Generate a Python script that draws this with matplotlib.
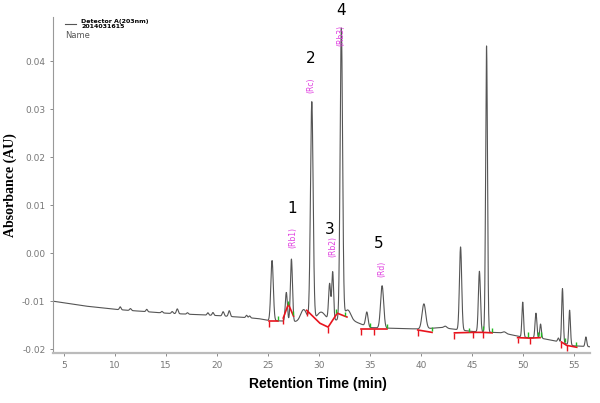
#!/usr/bin/env python3
"""HPLC chromatogram, detector A 203 nm"""
import numpy as np
import matplotlib.pyplot as plt

# baseline drift (time, AU)
base_t = [3.9, 7, 10, 15, 20, 24, 25, 28, 33, 35, 38, 40, 42, 45, 48, 50, 52, 53, 55, 56.6]
base_v = [-0.0100, -0.0110, -0.0117, -0.0125, -0.0130, -0.0136, -0.0140, -0.0143,
          -0.0138, -0.0155, -0.0157, -0.0158, -0.0155, -0.0163, -0.0166, -0.0175, -0.0178,
          -0.0182, -0.0193, -0.0195]

# peaks: retention time, height above baseline, width (sigma)
peak_t = [10.5, 11.5, 13.1, 14.6, 15.6, 16.1, 17.1, 19.1, 19.6, 20.6, 21.2, 22.9, 23.2,
          25.4, 26.8, 27.3, 28.5, 29.3, 30.2, 31.05, 31.35, 32.2, 32.8,
          34.7, 36.2, 40.3, 42.4, 43.9, 45.75, 46.45, 48.2, 50.0, 51.3, 51.75, 53.5, 53.9,
          54.6, 56.2]
peak_h = [0.0006, 0.0004, 0.0005, 0.0003, 0.0004, 0.0010, 0.0003, 0.0005, 0.0006, 0.0009,
          0.0012, 0.0005, 0.0004,
          0.0125, 0.0060, 0.0130, 0.0025, 0.0455, 0.0018, 0.0075, 0.0100, 0.0605, 0.0020,
          0.0030, 0.0088, 0.0052, 0.0004, 0.0173, 0.0126, 0.0596, 0.0003, 0.0073, 0.0052,
          0.0030, 0.0008, 0.0113, 0.0072, 0.0020]
peak_w = [0.08, 0.08, 0.08, 0.08, 0.08, 0.09, 0.08, 0.08, 0.08, 0.09, 0.09, 0.08, 0.08,
          0.12, 0.10, 0.10, 0.30, 0.13, 0.40, 0.10, 0.09, 0.12, 0.30,
          0.12, 0.15, 0.18, 0.15, 0.11, 0.10, 0.09, 0.15, 0.08, 0.09, 0.08,
          0.08, 0.08, 0.08, 0.08]

# integration baselines (red)
seg_t = [[25.1, 26.0], [26.5, 27.0, 27.5], [28.8, 30.1, 30.9, 31.8, 32.75],
         [34.15, 35.4, 36.7], [39.7, 41.1], [43.3, 45.1, 46.1, 47.0],
         [49.5, 50.7, 51.7], [53.8, 54.3, 55.3]]
seg_v = [[-0.0142, -0.0142], [-0.0135, -0.0106, -0.0131],
         [-0.0119, -0.0146, -0.0154, -0.0125, -0.0133],
         [-0.0158, -0.0158, -0.0158], [-0.0160, -0.0165],
         [-0.0166, -0.0165, -0.0165, -0.0166], [-0.0176, -0.0177, -0.0176],
         [-0.0185, -0.0192, -0.0196]]
start_t = [25.1, 26.5, 28.8, 30.9, 34.15, 35.4, 39.7, 43.3, 45.1, 46.1, 49.5, 50.7, 53.8, 54.3]
start_v = [-0.0142, -0.0135, -0.0119, -0.0154, -0.0158, -0.0158, -0.0160, -0.0166, -0.0165,
           -0.0165, -0.0176, -0.0177, -0.0185, -0.0192]
end_t = [26.0, 27.0, 27.5, 31.7, 32.6, 35.0, 36.7, 41.1, 44.7, 46.1, 47.0, 50.5, 51.5,
         51.8, 54.1, 55.2]
end_v = [-0.0142, -0.0110, -0.0131, -0.0127, -0.0133, -0.0156, -0.0158, -0.0165, -0.0166,
         -0.0163, -0.0166, -0.0176, -0.0175, -0.0176, -0.0188, -0.0195]

num_labels = ["1", "2", "3", "4", "5"]
num_t = [27.35, 29.2, 31.1, 32.15, 35.9]
num_v = [0.0094, 0.0406, 0.0050, 0.0506, 0.0021]
cmp_labels = ["(Rb1)", "(Rc)", "(Rb2)", "(Rb3)", "(Rd)"]
cmp_t = [27.45, 29.2, 31.4, 32.15, 36.2]
cmp_v = [0.0033, 0.0350, 0.0013, 0.0454, -0.0033]

t = np.arange(3.9, 56.6, 0.01)
y = np.interp(t, base_t, base_v)
for pt, ph, pw in zip(peak_t, peak_h, peak_w):
    y = y + ph * np.exp(-0.5 * ((t - pt) / pw) ** 2)

fig = plt.figure(figsize=(6, 4.03), dpi=100)
ax = fig.add_axes([0.0883, 0.124, 0.895, 0.834])

ax.plot(t, y, color="#555555", lw=0.8)
for st, sv in zip(seg_t, seg_v):
    ax.plot(st, sv, color="#e8141e", lw=1.2)
ax.vlines(start_t, np.array(start_v) - 0.0012, start_v, color="#e8141e", lw=1.0)
ax.vlines(end_t, np.array(end_v) + 0.0002, np.array(end_v) + 0.0011, color="#22bb22", lw=1.0)

for lab, lt, lv in zip(num_labels, num_t, num_v):
    ax.text(lt, lv, lab, fontsize=11, ha="center", va="center", clip_on=False)
for lab, lt, lv in zip(cmp_labels, cmp_t, cmp_v):
    ax.text(lt, lv, lab, fontsize=5.5, color="#e040e0", rotation=90,
            ha="center", va="center", clip_on=False)

ax.set_xlim(3.9, 56.6)
ax.set_ylim(-0.0208, 0.0492)
ax.set_xticks([5, 10, 15, 20, 25, 30, 35, 40, 45, 50, 55])
ax.set_yticks([-0.02, -0.01, 0.0, 0.01, 0.02, 0.03, 0.04])
ax.set_yticklabels(["-0.02", "-0.01", "0.00", "0.01", "0.02", "0.03", "0.04"])
ax.tick_params(labelsize=6.5, colors="#777777", length=2, width=0.6)
for side in ["top", "right"]:
    ax.spines[side].set_visible(False)
ax.spines["left"].set_color("#999999")
ax.spines["bottom"].set_color("#bbbbbb")
ax.spines["bottom"].set_linewidth(1.6)

ax.set_xlabel("Retention Time (min)", fontsize=10, fontweight="bold",
              family="Liberation Sans")
ax.set_ylabel("Absorbance (AU)", fontsize=10, fontweight="bold",
              family="Liberation Serif")
ax.xaxis.set_label_coords(0.493, -0.072)
ax.yaxis.set_label_coords(-0.067, 0.5)

# legend block top left
fig.lines.append(plt.Line2D([65 / 600, 76 / 600], [1 - 24 / 403, 1 - 24 / 403],
                            color="#555555", lw=0.8, transform=fig.transFigure))
fig.text(81 / 600, 1 - 21 / 403, "Detector A(203nm)", fontsize=4.5, fontweight="bold",
         va="center")
fig.text(81 / 600, 1 - 27 / 403, "2014031615", fontsize=4.5, fontweight="bold", va="center")
fig.text(65 / 600, 1 - 36 / 403, "Name", fontsize=6, color="#555555", va="center")

fig.savefig("out.png")
